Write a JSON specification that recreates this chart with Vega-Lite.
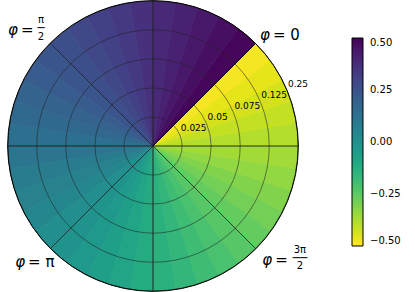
{
  "$schema": "https://vega.github.io/schema/vega-lite/v6.json",
  "width": 306,
  "height": 292,
  "autosize": {"type": "none"},
  "padding": {"left": 0, "top": 0, "right": 109, "bottom": 0},
  "config": {"view": {"stroke": null}, "font": "DejaVu Sans"},
  "datasets": {
    "wedges": [
      {"p0": 0, "p1": 9, "v": 0.4875}, {"p0": 9, "p1": 18, "v": 0.4625}, {"p0": 18, "p1": 27, "v": 0.4375}, {"p0": 27, "p1": 36, "v": 0.4125},
      {"p0": 36, "p1": 45, "v": 0.3875}, {"p0": 45, "p1": 54, "v": 0.3625}, {"p0": 54, "p1": 63, "v": 0.3375}, {"p0": 63, "p1": 72, "v": 0.3125},
      {"p0": 72, "p1": 81, "v": 0.2875}, {"p0": 81, "p1": 90, "v": 0.2625}, {"p0": 90, "p1": 99, "v": 0.2375}, {"p0": 99, "p1": 108, "v": 0.2125},
      {"p0": 108, "p1": 117, "v": 0.1875}, {"p0": 117, "p1": 126, "v": 0.1625}, {"p0": 126, "p1": 135, "v": 0.1375}, {"p0": 135, "p1": 144, "v": 0.1125},
      {"p0": 144, "p1": 153, "v": 0.0875}, {"p0": 153, "p1": 162, "v": 0.0625}, {"p0": 162, "p1": 171, "v": 0.0375}, {"p0": 171, "p1": 180, "v": 0.0125},
      {"p0": 180, "p1": 189, "v": -0.0125}, {"p0": 189, "p1": 198, "v": -0.0375}, {"p0": 198, "p1": 207, "v": -0.0625}, {"p0": 207, "p1": 216, "v": -0.0875},
      {"p0": 216, "p1": 225, "v": -0.1125}, {"p0": 225, "p1": 234, "v": -0.1375}, {"p0": 234, "p1": 243, "v": -0.1625}, {"p0": 243, "p1": 252, "v": -0.1875},
      {"p0": 252, "p1": 261, "v": -0.2125}, {"p0": 261, "p1": 270, "v": -0.2375}, {"p0": 270, "p1": 279, "v": -0.2625}, {"p0": 279, "p1": 288, "v": -0.2875},
      {"p0": 288, "p1": 297, "v": -0.3125}, {"p0": 297, "p1": 306, "v": -0.3375}, {"p0": 306, "p1": 315, "v": -0.3625}, {"p0": 315, "p1": 324, "v": -0.3875},
      {"p0": 324, "p1": 333, "v": -0.4125}, {"p0": 333, "p1": 342, "v": -0.4375}, {"p0": 342, "p1": 351, "v": -0.4625}, {"p0": 351, "p1": 360, "v": -0.4875}
    ],
    "rings": [
      {"p0": 0, "p1": 360, "r": 1}, {"p0": 0, "p1": 360, "r": 2}, {"p0": 0, "p1": 360, "r": 3}, {"p0": 0, "p1": 360, "r": 4}
    ],
    "spokes": [
      {"p0": 0, "p1": 45, "r": 5}, {"p0": 45, "p1": 90, "r": 5}, {"p0": 90, "p1": 135, "r": 5}, {"p0": 135, "p1": 180, "r": 5},
      {"p0": 180, "p1": 225, "r": 5}, {"p0": 225, "p1": 270, "r": 5}, {"p0": 270, "p1": 315, "r": 5}, {"p0": 315, "p1": 360, "r": 5}
    ],
    "outer": [{"p0": 0, "p1": 360, "r": 5}],
    "rlabels": [
      {"a": 337.5, "r": 1, "t": "0.025"}, {"a": 337.5, "r": 2, "t": "0.05"}, {"a": 337.5, "r": 3, "t": "0.075"},
      {"a": 337.5, "r": 4, "t": "0.125"}, {"a": 337.5, "r": 5, "t": "0.25"}
    ],
    "plabels": [
      {"a": 357.8, "r": 5.64, "rest": "= 0"},
      {"a": 93.8, "r": 6.05, "rest": "="},
      {"a": 178.0, "r": 5.89, "rest": "= π"},
      {"a": 272.1, "r": 5.75, "rest": "="}
    ],
    "fracs": [
      {"a": 88.6, "r": 5.6, "num": "π", "den": "2", "bar": "─"},
      {"a": 277.7, "r": 6.37, "num": "3π", "den": "2", "bar": "──"}
    ]
  },
  "layer": [
    {
      "data": {"name": "wedges"},
      "mark": {"type": "arc", "filled": false, "strokeWidth": 0.8},
      "encoding": {
        "theta": {"field": "p0", "type": "quantitative", "stack": false, "scale": {"domain": [0, 360], "range": [0.7853982, -5.4977871]}},
        "theta2": {"field": "p1"},
        "radius": {"datum": 5, "type": "quantitative", "scale": {"type": "linear", "domain": [0, 5], "range": [0, 145], "zero": true}},
        "radius2": {"datum": 0},
        "stroke": {"field": "v", "type": "quantitative", "scale": {"scheme": "viridis", "reverse": true, "domain": [-0.5001, 0.5001]}, "legend": null}
      }
    },
    {
      "data": {"name": "wedges"},
      "mark": {"type": "arc"},
      "encoding": {
        "theta": {"field": "p0", "type": "quantitative", "stack": false},
        "theta2": {"field": "p1"},
        "radius": {"datum": 5, "type": "quantitative"},
        "radius2": {"datum": 0},
        "color": {
          "field": "v", "type": "quantitative",
          "scale": {"scheme": "viridis", "reverse": true, "domain": [-0.5, 0.5]},
          "legend": {
            "type": "gradient",
            "orient": "none", "legendX": 352, "legendY": 38, "direction": "vertical",
            "gradientLength": 208, "gradientThickness": 11, "gradientStrokeColor": "black", "gradientStrokeWidth": 1,
            "title": null, "values": [-0.5, -0.25, 0, 0.25, 0.5], "format": ".2f", "labelFontSize": 10,
            "labelColor": "black", "labelOffset": 7, "labelOverlap": false, "padding": 0
          }
        }
      }
    },
    {
      "data": {"name": "rings"},
      "mark": {"type": "arc", "filled": false, "stroke": "#222222", "strokeOpacity": 0.8, "strokeWidth": 0.7},
      "encoding": {
        "theta": {"field": "p0", "type": "quantitative", "stack": false},
        "theta2": {"field": "p1"},
        "radius": {"field": "r", "type": "quantitative"},
        "radius2": {"datum": 0}
      }
    },
    {
      "data": {"name": "spokes"},
      "mark": {"type": "arc", "filled": false, "stroke": "#222222", "strokeOpacity": 0.8, "strokeWidth": 0.7},
      "encoding": {
        "theta": {"field": "p0", "type": "quantitative", "stack": false},
        "theta2": {"field": "p1"},
        "radius": {"field": "r", "type": "quantitative"},
        "radius2": {"datum": 0}
      }
    },
    {
      "data": {"name": "outer"},
      "mark": {"type": "arc", "filled": false, "stroke": "black", "strokeWidth": 1},
      "encoding": {
        "theta": {"field": "p0", "type": "quantitative", "stack": false},
        "theta2": {"field": "p1"},
        "radius": {"field": "r", "type": "quantitative"},
        "radius2": {"datum": 0}
      }
    },
    {
      "data": {"name": "rlabels"},
      "mark": {"type": "text", "align": "left", "baseline": "bottom", "dx": 1, "dy": -2, "fontSize": 9, "color": "black"},
      "encoding": {
        "theta": {"field": "a", "type": "quantitative", "stack": false},
        "radius": {"field": "r", "type": "quantitative"},
        "text": {"field": "t"}
      }
    },
    {
      "data": {"name": "plabels"},
      "mark": {"type": "text", "align": "right", "baseline": "middle", "dx": -3, "fontSize": 15, "fontStyle": "italic", "color": "black"},
      "encoding": {
        "theta": {"field": "a", "type": "quantitative", "stack": false},
        "radius": {"field": "r", "type": "quantitative"},
        "text": {"value": "φ"}
      }
    },
    {
      "data": {"name": "plabels"},
      "mark": {"type": "text", "align": "left", "baseline": "middle", "fontSize": 15, "color": "black"},
      "encoding": {
        "theta": {"field": "a", "type": "quantitative", "stack": false},
        "radius": {"field": "r", "type": "quantitative"},
        "text": {"field": "rest"}
      }
    },
    {
      "data": {"name": "fracs"},
      "mark": {"type": "text", "align": "center", "baseline": "middle", "dy": -8, "fontSize": 10, "color": "black"},
      "encoding": {
        "theta": {"field": "a", "type": "quantitative", "stack": false},
        "radius": {"field": "r", "type": "quantitative"},
        "text": {"field": "num"}
      }
    },
    {
      "data": {"name": "fracs"},
      "mark": {"type": "text", "align": "center", "baseline": "middle", "dy": 8.5, "fontSize": 10, "color": "black"},
      "encoding": {
        "theta": {"field": "a", "type": "quantitative", "stack": false},
        "radius": {"field": "r", "type": "quantitative"},
        "text": {"field": "den"}
      }
    },
    {
      "data": {"name": "fracs"},
      "mark": {"type": "text", "align": "center", "baseline": "middle", "fontSize": 12, "color": "black"},
      "encoding": {
        "theta": {"field": "a", "type": "quantitative", "stack": false},
        "radius": {"field": "r", "type": "quantitative"},
        "text": {"field": "bar"}
      }
    }
  ]
}
